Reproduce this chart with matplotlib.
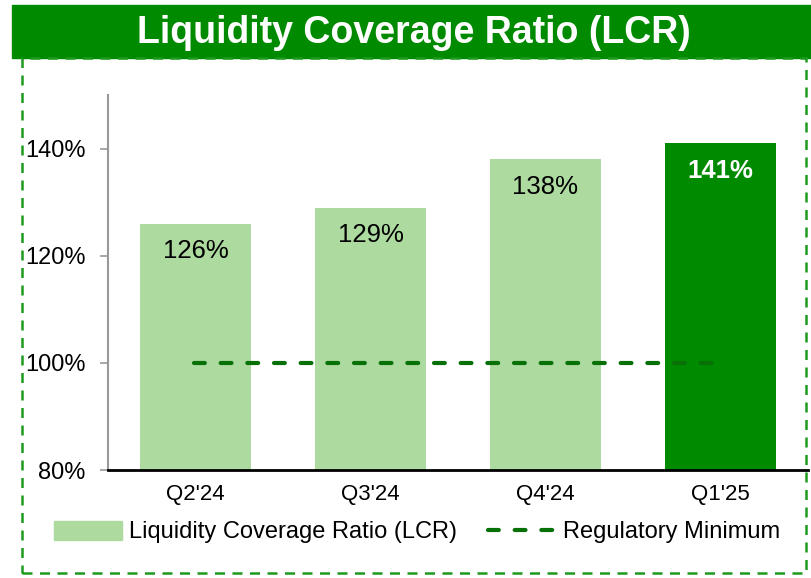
import matplotlib.pyplot as plt
from matplotlib.patches import Rectangle
from matplotlib.lines import Line2D

plt.rcParams['font.family'] = ['Liberation Sans', 'DejaVu Sans']

# data
quarters = ["Q2'24", "Q3'24", "Q4'24", "Q1'25"]
lcr = [126, 129, 138, 141]
reg_min = [100, 100]
yticks = [80, 100, 120, 140]

light_green = '#ADDA9F'
dark_green = '#008A00'
line_green = '#077007'

fig = plt.figure(figsize=(8.12, 5.78), dpi=100)

# title bar
fig.patches.append(Rectangle((12/812, 1 - 58/578), 1 - 12/812, 53/578,
                             transform=fig.transFigure, color=dark_green, zorder=0))
fig.text(414/812, 1 - 33/578, 'Liquidity Coverage Ratio (LCR)', color='white',
         fontsize=27, fontweight='bold', ha='center', va='center')

# dashed frame
fig.patches.append(Rectangle((22/812, 1 - 573/578), 784/812, 515/578,
                             transform=fig.transFigure, fill=False,
                             edgecolor='#1E9A1E', lw=1.8, ls=(0, (4, 3)), zorder=0))

ax = fig.add_axes([108/812, 108/578, 700/812, 375/578])
x = range(len(quarters))
colors = [light_green] * 3 + [dark_green]
bars = ax.bar(x, lcr, width=0.63, color=colors, zorder=1)

# regulatory minimum line
ax.plot([-0.01, 2.96], reg_min, color=line_green, lw=3,
        dashes=(2.6, 3.8), dash_capstyle='round', zorder=2)

for i, (b, v) in enumerate(zip(bars, lcr)):
    last = i == len(lcr) - 1
    ax.annotate(f'{v}%', (b.get_x() + b.get_width() / 2, v), xytext=(0, -20),
                textcoords='offset points', ha='center', va='center',
                fontsize=18.5,
                fontweight='bold' if last else 'normal',
                color='white' if last else 'black')

ax.set_xlim(-0.5, 3.5)
ax.set_ylim(80, 150)
ax.set_yticks(yticks)
ax.set_yticklabels([f'{t}%' for t in yticks], fontsize=17)
ax.set_xticks(list(x))
ax.set_xticklabels(quarters, fontsize=16)
ax.tick_params(axis='x', length=0, pad=10)
ax.tick_params(axis='y', length=6, width=1.2, color='#999999', pad=10)
for s in ['top', 'right']:
    ax.spines[s].set_visible(False)
ax.spines['left'].set_color('#999999')
ax.spines['left'].set_linewidth(1.5)
ax.spines['bottom'].set_color('black')
ax.spines['bottom'].set_linewidth(2)
ax.spines['bottom'].set_zorder(3)

handles = [Rectangle((0, 0), 1, 1, color=light_green),
           Line2D([0], [0], color=line_green, lw=3, dashes=(2.6, 3.8),
                  dash_capstyle='round')]
fig.legend(handles, ['Liquidity Coverage Ratio (LCR)', 'Regulatory Minimum'],
           loc='center', bbox_to_anchor=(417/812, 1 - 532/578), ncol=2,
           frameon=False, fontsize=17, handlelength=2.9, handleheight=0.9,
           handletextpad=0.3, columnspacing=1.3)

fig.savefig('out.png', dpi=100)
